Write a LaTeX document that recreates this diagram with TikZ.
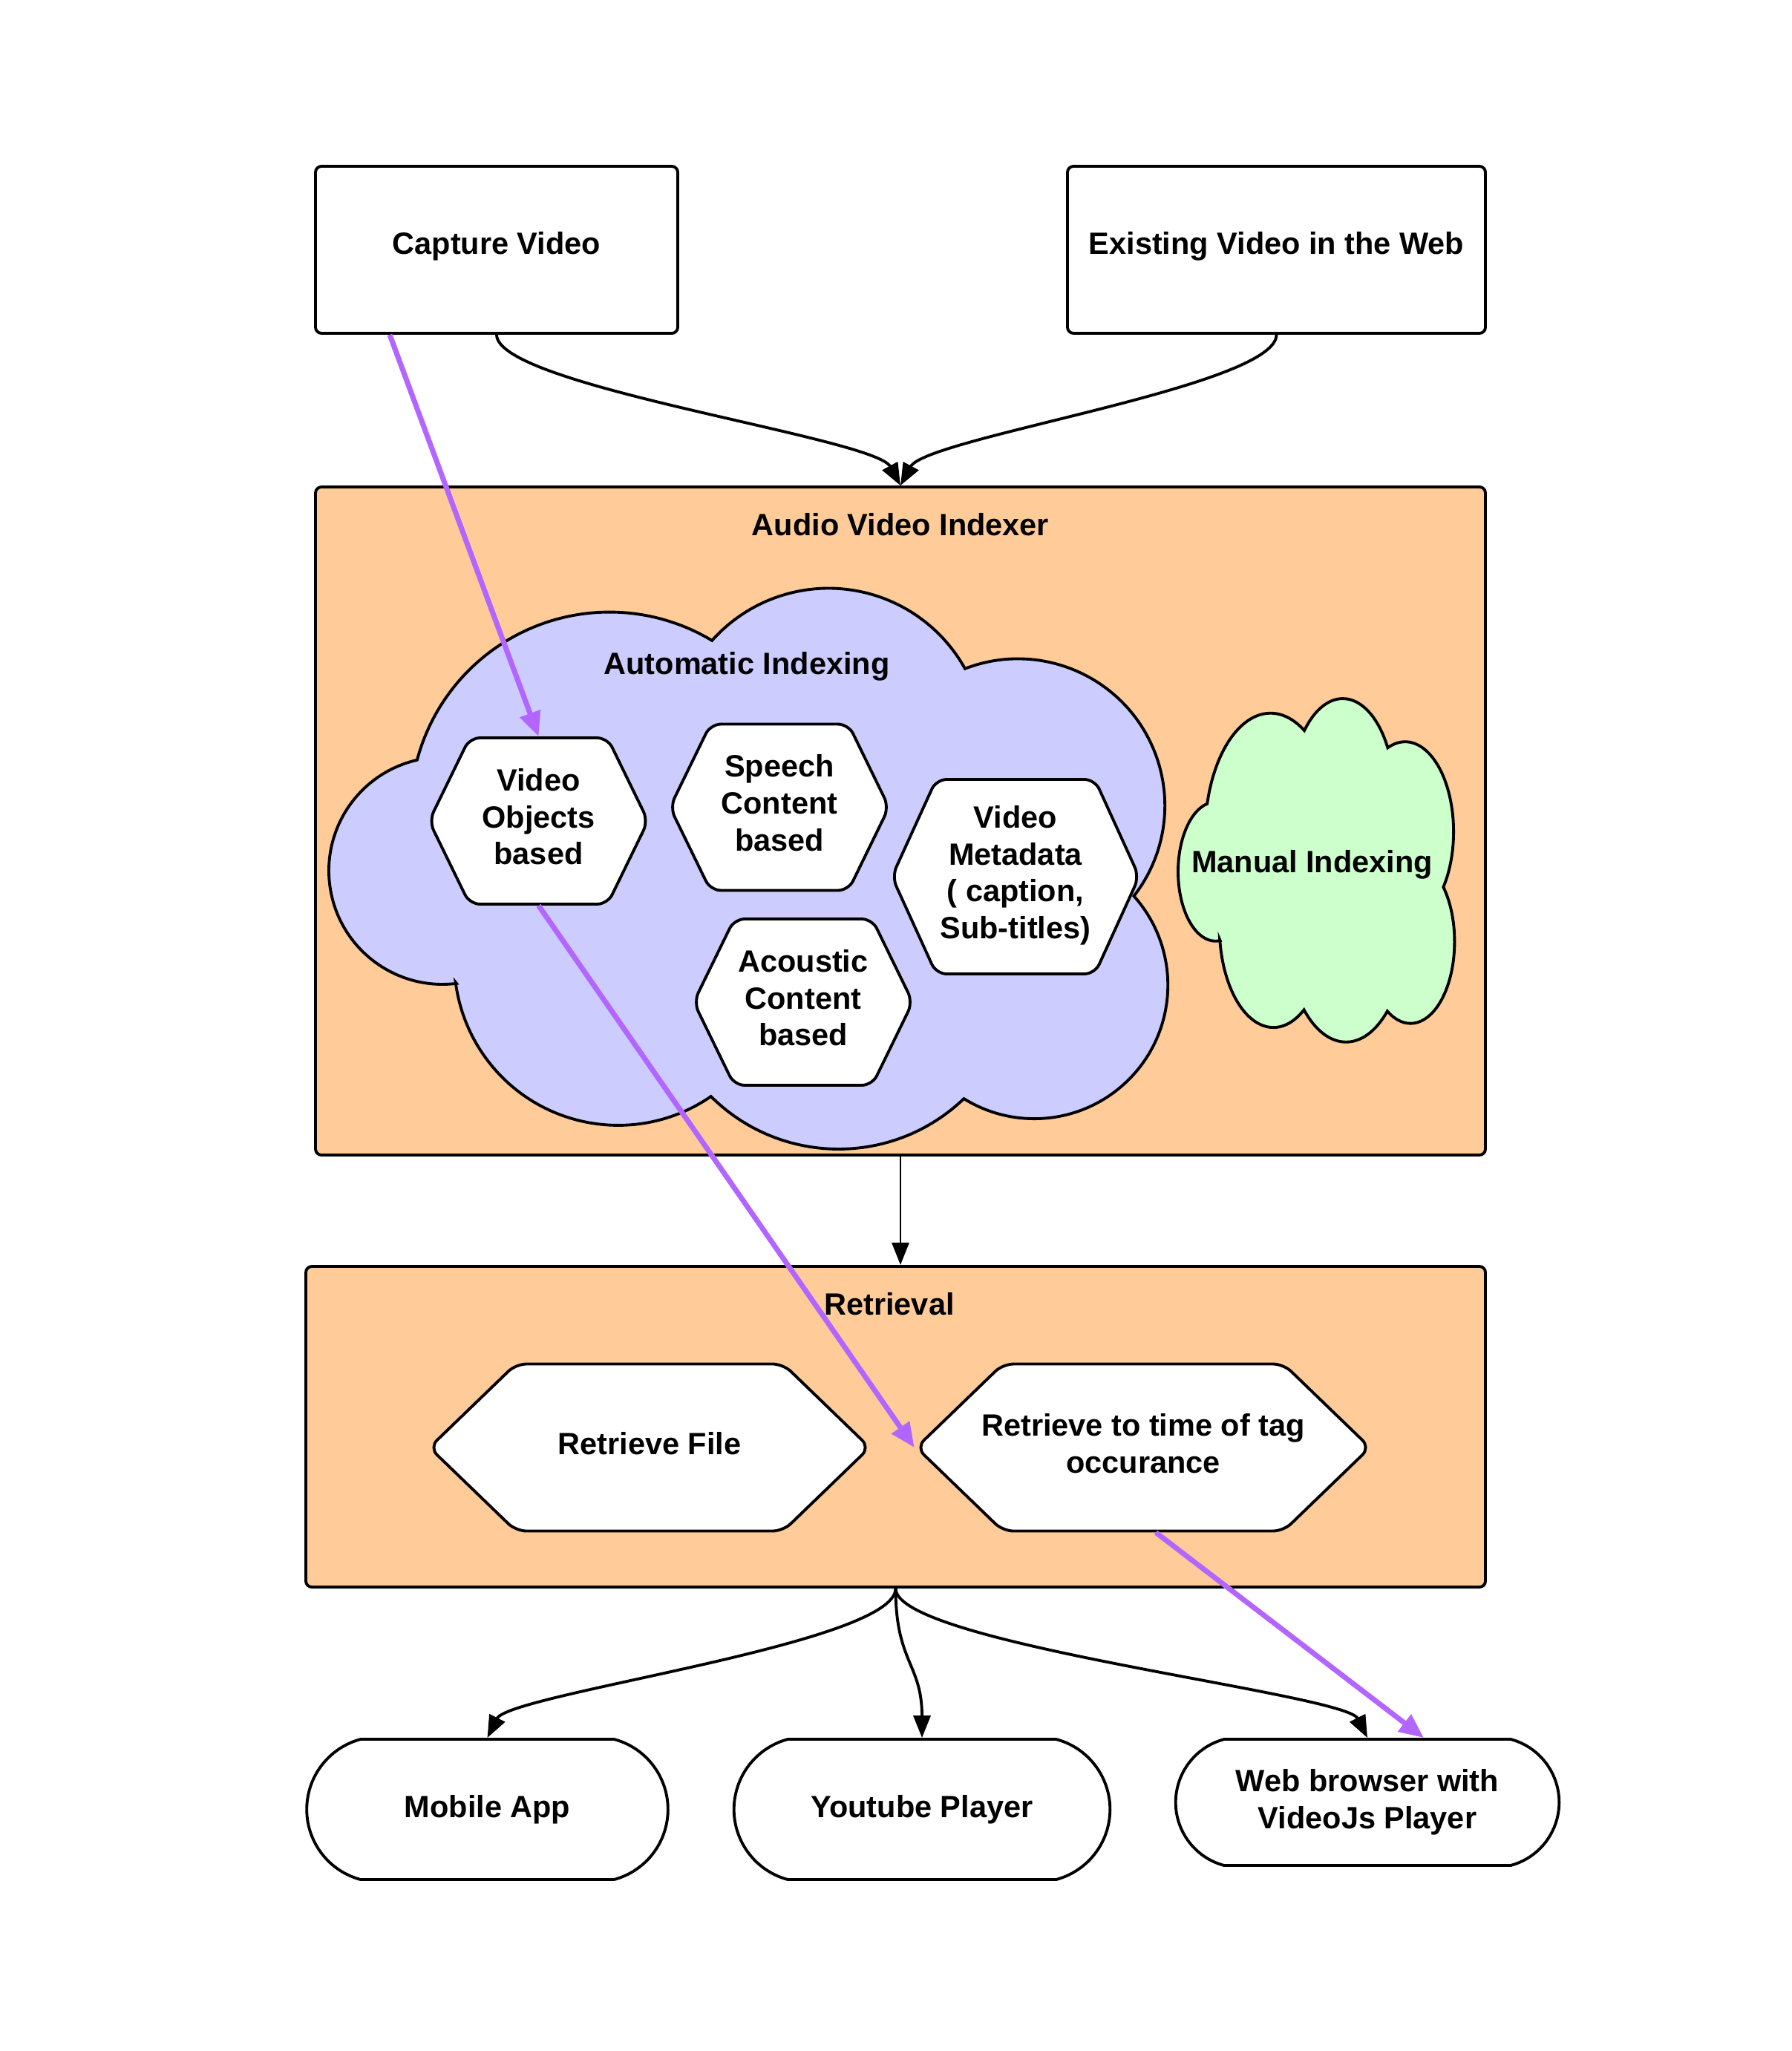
\documentclass[tikz,border=0pt]{standalone}
\usepackage{fontspec}
\setmainfont{Liberation Sans}
\usetikzlibrary{arrows.meta,positioning,shapes.symbols,shapes.misc}

\definecolor{boxorange}{RGB}{255,204,153}
\definecolor{cloudblue}{RGB}{204,204,255}
\definecolor{cloudgreen}{RGB}{204,255,204}
\definecolor{tagpurple}{RGB}{178,102,255}

% cloud outline in a unit box, y pointing down
\newcommand{\cloudoutline}{(0.1519,0.7021)
	arc[start angle=82.9,end angle=257.1,x radius=0.1352,y radius=0.2024]
	arc[start angle=-165.1,end angle=-59.0,x radius=0.2369,y radius=0.3548]
	arc[start angle=-138.3,end angle=-29.0,x radius=0.1857,y radius=0.2780]
	arc[start angle=-111.1,end angle=37.9,x radius=0.1749,y radius=0.2619]
	arc[start angle=-41.8,end angle=121.8,x radius=0.1590,y radius=0.2381]
	arc[start angle=46.2,end angle=134.8,x radius=0.2155,y radius=0.3228]
	arc[start angle=55.5,end angle=172.7,x radius=0.1950,y radius=0.2919]
	-- cycle}

\begin{document}
\begin{tikzpicture}
	\tikzstyle{every node}=[font=\bfseries\fontsize{11.8}{14.2}\selectfont,align=center];
	\tikzstyle{src}=[draw,rectangle,line width=1.1pt,rounded corners=2.3pt,fill=white,minimum height=22.5mm,text depth=1.9mm];
	\tikzstyle{area}=[draw,rectangle,line width=1.1pt,rounded corners=2.3pt,fill=boxorange];
	\tikzstyle{hexa}=[draw,signal,signal to=east and west,signal pointer angle=128,line width=1.1pt,rounded corners=4pt,fill=white,inner sep=0pt,minimum width=29.5mm,minimum height=22.4mm,text depth=1.2mm];
	\tikzstyle{wide}=[signal pointer angle=88,minimum width=59.3mm,minimum height=22.5mm,inner xsep=-5mm];
	\tikzstyle{player}=[draw,rounded rectangle,rounded rectangle arc length=150,line width=1.1pt,fill=white,minimum height=18.9mm];
	\tikzstyle{pth}=[draw,-{Triangle[length=3mm,width=2.3mm]},line width=1.1pt];
	\tikzstyle{tag}=[draw=tagpurple,-{Triangle[length=3.3mm,width=2.8mm]},line width=2pt];
	\useasboundingbox (0,0) rectangle (24.13,-27.63);

	% sources
	\node (cap) [src,minimum width=48.8mm] at (6.69,-3.365) {Capture Video};
	\node (ext) [src,minimum width=56.3mm] at (17.195,-3.365) {Existing Video in the Web};

	% indexer
	\node (avi) [area,minimum width=157.6mm,minimum height=90mm] at (12.13,-11.06) {};
	\node (avi_title) at (12.13,-7.07) {Audio Video Indexer};
	\begin{scope}[shift={(4.43,-7.94)},xscale=11.32,yscale=-7.56]
		\draw[line width=1.1pt,fill=cloudblue] \cloudoutline;
	\end{scope}
	\node (auto_title) at (10.06,-8.975) {Automatic Indexing};
	\begin{scope}[shift={(15.87,-9.42)},xscale=3.73,yscale=-4.63]
		\draw[line width=1.1pt,fill=cloudgreen] \cloudoutline;
	\end{scope}
	\node (manual) at (17.675,-11.645) {Manual Indexing};
	\node (vob) [hexa] at (7.255,-11.06) {Video\\Objects\\based};
	\node (spc) [hexa] at (10.50,-10.875) {Speech\\Content\\based};
	\node (vmd) [hexa,signal pointer angle=131,minimum width=33.3mm,minimum height=26.2mm] at (13.68,-11.81) {Video\\Metadata\\( caption,\\Sub-titles)};
	\node (aco) [hexa] at (10.82,-13.50) {Acoustic\\Content\\based};

	% retrieval
	\node (ret) [area,minimum width=158.9mm,minimum height=43.2mm] at (12.065,-19.22) {};
	\node (ret_title) at (11.98,-17.57) {Retrieval};
	\node (rfl) [hexa,wide] at (8.75,-19.50) {Retrieve File};
	\node (rtt) [hexa,wide,minimum width=61.1mm] at (15.40,-19.50) {Retrieve to time of tag\\occurance};

	% players
	\node (mob) [player,minimum width=51mm] at (6.565,-24.375) {Mobile App};
	\node (you) [player,minimum width=53mm] at (12.42,-24.375) {Youtube Player};
	\node (web) [player,minimum width=54mm,minimum height=17mm] at (18.42,-24.28) {Web browser with\\VideoJs Player};

	% flow
	\path[pth] (cap.south) .. controls +(0,-0.7) and +(-0.35,0.65) .. (avi.north);
	\path[pth] (ext.south) .. controls +(0,-0.7) and +(0.35,0.65) .. (avi.north);
	\path[pth,line width=0.8pt] (avi.south) -- (avi.south |- ret.north);
	\path[pth] (ret.south) .. controls +(0,-0.75) and +(0.3,0.6) .. (mob.north);
	\path[pth] (ret.south) .. controls +(0,-1) and +(0,1) .. (you.north);
	\path[pth] (ret.south) .. controls +(0,-0.75) and +(-0.3,0.6) .. (web.north);

	% tag path
	\path[tag] ([xshift=-1.44cm]cap.south) -- (vob.north);
	\path[tag] (vob.south) -- (rtt.west);
	\path[tag] ([xshift=0.17cm]rtt.south) -- ([xshift=0.76cm]web.north);
\end{tikzpicture}
\end{document}
